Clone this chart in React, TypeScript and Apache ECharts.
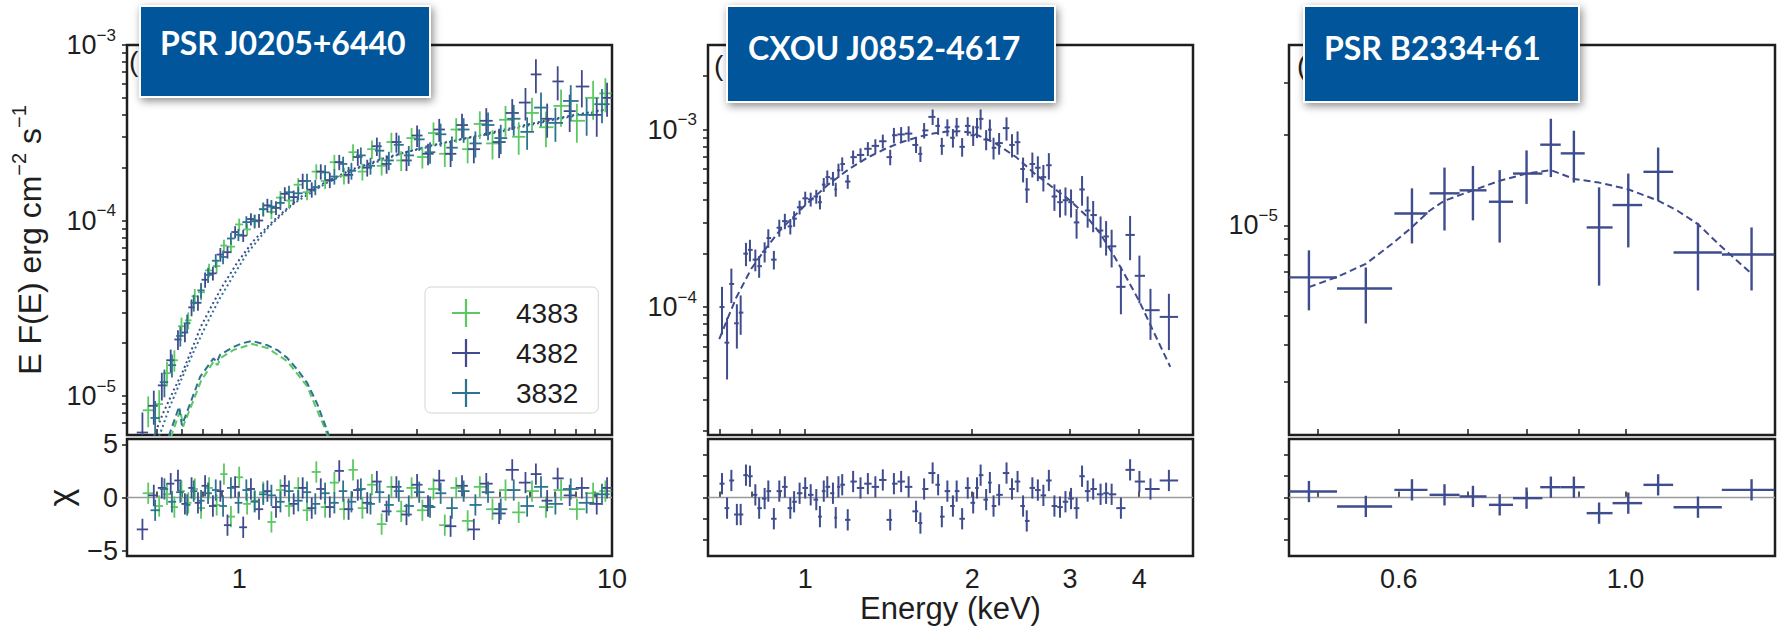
import React, { useEffect, useRef } from 'react';
import * as echarts from 'echarts';

const FONT = 'Liberation Sans';
const INK = '#1e1e1e';
const C_GREEN = '#5cc863';
const C_BLUE = '#414a8e';
const C_TEAL = '#2d738e';
const C_DATA = '#3f4c8d';
const C_BOX = '#00559b';

// ---------- Panel 1: PSR J0205+6440 (rows: energy keV, E F(E), relative error, chi) ----------
const obs4383: number[][] = [
  [0.57, 8.3e-6, 0.2, 0.4], [0.61, 9.0e-6, 0.2, -0.8], [0.64, 1.35e-5, 0.16, 0.3], [0.67, 1.6e-5, 0.14, -0.9],
  [0.70, 2.5e-5, 0.12, 0.6], [0.73, 2.7e-5, 0.11, -0.5], [0.76, 3.7e-5, 0.1, 0.8], [0.79, 3.9e-5, 0.1, -1.0],
  [0.83, 5.2e-5, 0.09, 0.9], [0.87, 5.5e-5, 0.09, -0.7], [0.91, 7.2e-5, 0.08, 2.2], [0.95, 7.1e-5, 0.08, -1.8],
  [1.0, 9.5e-5, 0.08, 1.9], [1.05, 8.9e-5, 0.08, -0.6], [1.1, 1.0e-4, 0.08, -0.3], [1.16, 1.16e-4, 0.09, 0.5],
  [1.22, 1.12e-4, 0.09, -2.3], [1.29, 1.35e-4, 0.09, 0.7], [1.36, 1.3e-4, 0.09, -0.8], [1.44, 1.6e-4, 0.09, 0.9],
  [1.52, 1.45e-4, 0.1, -1.2], [1.61, 1.9e-4, 0.1, 2.4], [1.7, 1.68e-4, 0.1, -0.9], [1.8, 2.15e-4, 0.1, 1.4],
  [1.91, 1.8e-4, 0.11, -1.1], [2.02, 2.45e-4, 0.11, 2.6], [2.14, 1.9e-4, 0.11, -1.0], [2.27, 2.55e-4, 0.12, 1.2],
  [2.41, 2.05e-4, 0.12, -2.5], [2.56, 2.8e-4, 0.13, 1.0], [2.72, 2.2e-4, 0.13, -1.3], [2.9, 2.95e-4, 0.14, 0.9],
  [3.1, 2.3e-4, 0.14, -1.2], [3.32, 3.15e-4, 0.15, 0.8], [3.56, 2.4e-4, 0.16, -2.6], [3.82, 3.3e-4, 0.16, 0.9],
  [4.1, 2.55e-4, 0.17, -2.2], [4.42, 3.55e-4, 0.18, 1.0], [4.78, 2.75e-4, 0.19, -1.1], [5.18, 3.75e-4, 0.2, 0.7],
  [5.62, 3.0e-4, 0.21, -1.4], [6.1, 4.1e-4, 0.22, 0.6], [6.65, 3.4e-4, 0.23, -0.9], [7.3, 4.5e-4, 0.24, 0.7],
  [8.05, 3.7e-4, 0.25, -1.1], [8.9, 5.0e-4, 0.25, 0.4], [9.6, 5.3e-4, 0.22, 0.6],
];
const obs4382: number[][] = [
  [0.55, 6.2e-6, 0.3, -3.0], [0.59, 8.8e-6, 0.22, 0.2], [0.62, 1.15e-5, 0.18, 0.9], [0.655, 1.6e-5, 0.15, 1.3],
  [0.685, 2.1e-5, 0.13, 1.6], [0.715, 2.3e-5, 0.12, -0.6], [0.745, 3.2e-5, 0.11, 0.9], [0.775, 3.4e-5, 0.1, -0.5],
  [0.81, 4.6e-5, 0.1, 1.1], [0.85, 5.0e-5, 0.09, -0.8], [0.89, 6.4e-5, 0.09, 0.6], [0.93, 6.6e-5, 0.08, -2.6],
  [0.975, 8.6e-5, 0.08, 1.0], [1.025, 8.2e-5, 0.08, -2.8], [1.075, 1.02e-4, 0.08, 0.8], [1.13, 1.0e-4, 0.09, -1.1],
  [1.19, 1.22e-4, 0.09, 0.6], [1.255, 1.18e-4, 0.09, -0.9], [1.325, 1.42e-4, 0.09, 1.1], [1.4, 1.36e-4, 0.09, -0.6],
  [1.48, 1.68e-4, 0.1, 0.9], [1.565, 1.5e-4, 0.1, -1.0], [1.655, 1.9e-4, 0.1, 0.8], [1.75, 1.7e-4, 0.1, -0.9],
  [1.855, 2.15e-4, 0.1, 2.5], [1.965, 1.82e-4, 0.11, -1.1], [2.08, 2.3e-4, 0.11, 0.7], [2.205, 2.0e-4, 0.11, -0.5],
  [2.34, 2.65e-4, 0.12, 1.5], [2.485, 2.1e-4, 0.12, -1.3], [2.64, 2.8e-4, 0.13, 1.0], [2.81, 2.2e-4, 0.13, -1.6],
  [3.0, 3.05e-4, 0.14, 1.2], [3.21, 2.4e-4, 0.14, -0.8], [3.44, 3.3e-4, 0.15, 1.6], [3.69, 2.4e-4, 0.16, -2.7],
  [3.96, 3.5e-4, 0.16, 1.1], [4.26, 2.55e-4, 0.17, -3.0], [4.6, 3.7e-4, 0.18, 1.3], [4.98, 2.8e-4, 0.19, -1.5],
  [5.4, 4.1e-4, 0.2, 2.6], [5.86, 4.7e-4, 0.21, 1.4], [6.25, 6.8e-4, 0.22, 2.2], [6.7, 3.8e-4, 0.22, -0.3],
  [7.15, 6.2e-4, 0.22, 1.8], [7.7, 4.2e-4, 0.24, 0.2], [8.3, 5.8e-4, 0.24, 0.9], [9.1, 4.0e-4, 0.25, -0.6],
  [9.7, 5.0e-4, 0.22, 0.9],
];
const obs3832: number[][] = [
  [0.595, 7.5e-6, 0.25, -1.2], [0.63, 1.2e-5, 0.18, 0.8], [0.66, 1.5e-5, 0.15, -0.4], [0.695, 2.2e-5, 0.13, 0.5],
  [0.725, 2.6e-5, 0.12, -0.7], [0.755, 3.4e-5, 0.11, 0.6], [0.79, 4.0e-5, 0.1, -0.3], [0.825, 4.9e-5, 0.1, 0.4],
  [0.865, 5.9e-5, 0.09, 0.7], [0.905, 6.2e-5, 0.09, -0.8], [0.95, 7.9e-5, 0.08, 0.9], [0.995, 8.3e-5, 0.08, -0.5],
  [1.045, 9.8e-5, 0.08, 0.7], [1.1, 9.9e-5, 0.09, -0.4], [1.16, 1.16e-4, 0.09, 0.3], [1.22, 1.2e-4, 0.09, 0.2],
  [1.29, 1.26e-4, 0.09, -0.4], [1.36, 1.45e-4, 0.09, 0.6], [1.44, 1.43e-4, 0.09, -0.3], [1.52, 1.68e-4, 0.1, 0.5],
  [1.6, 1.55e-4, 0.1, -0.6], [1.7, 1.88e-4, 0.1, 0.4], [1.8, 1.78e-4, 0.1, -0.5], [1.9, 2.1e-4, 0.1, 0.6],
  [2.0, 1.92e-4, 0.11, -0.4], [2.12, 2.35e-4, 0.11, 0.8], [2.25, 2.05e-4, 0.11, -0.6], [2.38, 2.5e-4, 0.12, 0.5],
  [2.52, 2.2e-4, 0.12, -0.7], [2.68, 2.7e-4, 0.13, 0.6], [2.85, 2.35e-4, 0.13, -0.8], [3.04, 2.9e-4, 0.14, 0.5],
  [3.25, 2.45e-4, 0.14, -0.9], [3.47, 3.1e-4, 0.15, 0.4], [3.72, 2.6e-4, 0.16, -1.0], [4.0, 3.3e-4, 0.16, 0.6],
  [4.3, 2.75e-4, 0.17, -0.7], [4.65, 3.5e-4, 0.18, 0.5], [5.03, 2.95e-4, 0.19, -1.1], [5.45, 3.8e-4, 0.2, 0.7],
  [5.92, 3.2e-4, 0.21, -0.8], [6.45, 4.4e-4, 0.22, 1.0], [7.05, 3.6e-4, 0.22, -0.6], [7.75, 4.8e-4, 0.23, 0.8],
  [8.55, 4.0e-4, 0.24, -0.5], [9.4, 4.6e-4, 0.22, 0.3],
];
// model components (energy keV, E F(E))
const plModelBlue: number[][] = [
  [0.59, 5.9e-6], [0.625, 8.0e-6], [0.67, 1.1e-5], [0.708, 1.4e-5], [0.75, 1.9e-5], [0.79, 2.5e-5], [0.852, 3.4e-5],
  [0.9, 4.2e-5], [0.99, 5.8e-5], [1.1, 7.8e-5], [1.25, 1.02e-4], [1.45, 1.35e-4], [1.7, 1.65e-4], [2.0, 1.95e-4],
  [2.5, 2.3e-4], [3.2, 2.65e-4], [4.2, 3.0e-4], [5.5, 3.4e-4], [7.0, 3.8e-4], [8.5, 4.1e-4], [9.6, 4.3e-4],
];
const plModelTeal: number[][] = [
  [0.61, 5.9e-6], [0.65, 8.6e-6], [0.7, 1.25e-5], [0.76, 1.85e-5], [0.82, 2.6e-5], [0.88, 3.5e-5], [0.95, 4.6e-5],
  [1.05, 6.5e-5], [1.2, 9.2e-5], [1.4, 1.25e-4], [1.7, 1.62e-4], [2.1, 2.0e-4], [2.8, 2.45e-4], [3.8, 2.85e-4],
  [5.0, 3.2e-4], [7.0, 3.75e-4], [9.6, 4.25e-4],
];
const bbModelTeal: number[][] = [
  [0.647, 5.9e-6], [0.69, 8.7e-6], [0.702, 6.8e-6], [0.786, 1.29e-5], [0.853, 1.64e-5], [0.871, 1.56e-5],
  [0.889, 1.72e-5], [0.963, 1.9e-5], [1.02, 2.0e-5], [1.084, 2.06e-5], [1.189, 1.95e-5], [1.27, 1.82e-5],
  [1.345, 1.65e-5], [1.43, 1.42e-5], [1.521, 1.19e-5], [1.62, 9.0e-6], [1.72, 6.4e-6], [1.78, 5.0e-6],
];
const bbModelGreen: number[][] = [
  [0.655, 5.8e-6], [0.695, 8.3e-6], [0.707, 6.7e-6], [0.79, 1.22e-5], [0.855, 1.58e-5], [0.874, 1.5e-5],
  [0.892, 1.65e-5], [0.965, 1.83e-5], [1.084, 1.98e-5], [1.19, 1.88e-5], [1.345, 1.58e-5], [1.52, 1.14e-5],
  [1.72, 6.1e-6], [1.77, 5.0e-6],
];

// ---------- Panel 2: CXOU J0852-4617 (rows: energy keV, E F(E), relative error, chi) ----------
const cxouRows: number[][] = [
  [0.708, 1.0e-4, 0.3, 1.3], [0.723, 6.3e-5, 0.38, -1.0], [0.736, 1.35e-4, 0.22, 1.6], [0.753, 8.1e-5, 0.28, -1.6],
  [0.765, 9.3e-5, 0.25, -1.6], [0.782, 2.0e-4, 0.15, 2.1], [0.795, 2.1e-4, 0.14, 2.0], [0.813, 1.85e-4, 0.14, 0.25],
  [0.826, 1.7e-4, 0.14, -1.0], [0.845, 2.05e-4, 0.13, -0.1], [0.858, 2.45e-4, 0.12, 0.6], [0.878, 1.85e-4, 0.12, -2.0],
  [0.898, 2.8e-4, 0.11, 0.6], [0.919, 3.05e-4, 0.1, 1.0], [0.94, 2.85e-4, 0.1, -1.0], [0.955, 3.15e-4, 0.1, -0.4],
  [0.977, 3.65e-4, 0.09, 0.4], [1.0, 4.1e-4, 0.09, 0.9], [1.023, 4.05e-4, 0.09, 0.25], [1.047, 4.2e-4, 0.09, -0.2],
  [1.063, 3.9e-4, 0.09, -1.8], [1.08, 4.9e-4, 0.09, 0.6], [1.096, 5.4e-4, 0.09, 1.0], [1.122, 5.3e-4, 0.09, 0.4],
  [1.135, 4.6e-4, 0.09, -1.9], [1.148, 5.9e-4, 0.09, 1.0], [1.166, 6.4e-4, 0.09, 1.2], [1.193, 5.1e-4, 0.09, -2.1],
  [1.22, 7.0e-4, 0.09, 1.5], [1.258, 7.2e-4, 0.09, 0.9], [1.297, 7.8e-4, 0.09, 1.3], [1.338, 8.1e-4, 0.09, 1.0],
  [1.38, 8.6e-4, 0.09, 1.65], [1.423, 7.0e-4, 0.1, -2.1], [1.445, 9.3e-4, 0.1, 1.3], [1.489, 9.4e-4, 0.1, 1.5],
  [1.536, 9.5e-4, 0.1, 1.0], [1.584, 8.2e-4, 0.1, -1.3], [1.613, 7.3e-4, 0.1, -2.4], [1.638, 9.9e-4, 0.1, 0.8],
  [1.697, 1.18e-3, 0.1, 2.3], [1.736, 1.05e-3, 0.11, 1.2], [1.763, 8.1e-4, 0.11, -1.8], [1.804, 1.03e-3, 0.11, 0.6],
  [1.846, 9.0e-4, 0.12, -0.8], [1.875, 1.04e-3, 0.12, 0.6], [1.918, 8.0e-4, 0.12, -2.0], [1.963, 1.05e-3, 0.12, 0.9],
  [2.008, 9.3e-4, 0.13, -0.5], [2.04, 1.03e-3, 0.13, 0.9], [2.071, 1.15e-3, 0.13, 2.1], [2.119, 8.8e-4, 0.13, -0.2],
  [2.152, 1.0e-3, 0.14, 1.4], [2.185, 7.9e-4, 0.14, -0.8], [2.236, 8.4e-4, 0.14, 0.25], [2.306, 1.02e-3, 0.15, 2.3],
  [2.359, 8.2e-4, 0.15, 0.8], [2.414, 8.5e-4, 0.15, 1.5], [2.47, 6.0e-4, 0.16, -0.8], [2.508, 4.6e-4, 0.16, -2.2],
  [2.567, 6.4e-4, 0.16, 0.9], [2.626, 6.1e-4, 0.16, 0.7], [2.687, 5.4e-4, 0.17, 0.2], [2.749, 6.3e-4, 0.17, 1.6],
  [2.813, 4.2e-4, 0.17, -0.8], [2.879, 3.9e-4, 0.18, -0.9], [2.945, 4.0e-4, 0.18, -0.4], [3.014, 3.9e-4, 0.18, -0.1],
  [3.084, 3.0e-4, 0.19, -1.0], [3.155, 4.6e-4, 0.19, 2.0], [3.229, 3.5e-4, 0.2, 0.6], [3.304, 3.3e-4, 0.2, 0.8],
  [3.407, 2.7e-4, 0.2, 0.3], [3.486, 2.5e-4, 0.22, 0.4], [3.567, 2.2e-4, 0.24, 0.3], [3.707, 1.3e-4, 0.3, -1.0],
  [3.851, 2.55e-4, 0.28, 2.6], [4.003, 1.5e-4, 0.3, 1.5], [4.191, 9.6e-5, 0.32, 0.8], [4.524, 8.8e-5, 0.35, 1.6],
];
const cxouModel: number[][] = [
  [0.70, 6.6e-5], [0.75, 1.12e-4], [0.8, 1.65e-4], [0.85, 2.15e-4], [0.9, 2.7e-4], [0.95, 3.2e-4], [1.0, 3.75e-4],
  [1.1, 4.9e-4], [1.2, 6.0e-4], [1.3, 7.0e-4], [1.4, 7.85e-4], [1.5, 8.55e-4], [1.6, 9.1e-4], [1.7, 9.5e-4],
  [1.8, 9.75e-4], [1.9, 9.8e-4], [2.0, 9.6e-4], [2.2, 8.4e-4], [2.4, 7.0e-4], [2.6, 5.6e-4], [2.8, 4.7e-4],
  [3.0, 4.0e-4], [3.2, 3.3e-4], [3.4, 2.6e-4], [3.6, 1.95e-4], [3.8, 1.45e-4], [4.0, 1.08e-4], [4.2, 7.8e-5],
  [4.55, 4.6e-5],
];

// ---------- Panel 3: PSR B2334+61 (rows: E, E low, E high, flux, flux low, flux high, chi) ----------
const b2334Rows: number[][] = [
  [0.490, 0.4685, 0.522, 6.71e-6, 5.21e-6, 8.26e-6, 0.56],
  [0.557, 0.522, 0.591, 6.16e-6, 4.71e-6, 7.24e-6, -0.84],
  [0.618, 0.594, 0.640, 1.096e-5, 8.71e-6, 1.33e-5, 0.72],
  [0.665, 0.643, 0.688, 1.28e-5, 9.62e-6, 1.56e-5, 0.25],
  [0.709, 0.688, 0.731, 1.31e-5, 1.04e-5, 1.58e-5, 0.1],
  [0.753, 0.735, 0.776, 1.2e-5, 8.77e-6, 1.53e-5, -0.69],
  [0.800, 0.776, 0.829, 1.49e-5, 1.18e-5, 1.78e-5, -0.06],
  [0.845, 0.825, 0.864, 1.86e-5, 1.45e-5, 2.27e-5, 0.97],
  [0.890, 0.864, 0.912, 1.74e-5, 1.39e-5, 2.07e-5, 0.97],
  [0.942, 0.916, 0.971, 9.85e-6, 6.3e-6, 1.34e-5, -1.47],
  [1.006, 0.971, 1.038, 1.17e-5, 8.45e-6, 1.49e-5, -0.53],
  [1.076, 1.041, 1.113, 1.51e-5, 1.21e-5, 1.82e-5, 1.19],
  [1.177, 1.114, 1.242, 8.13e-6, 6.07e-6, 1.02e-5, -0.91],
  [1.328, 1.242, 1.398, 8.0e-6, 6.07e-6, 9.85e-6, 0.72],
];
const b2334Model: number[][] = [
  [0.49, 6.23e-6], [0.522, 6.73e-6], [0.557, 7.45e-6], [0.591, 8.69e-6], [0.618, 9.87e-6], [0.643, 1.12e-5],
  [0.665, 1.21e-5], [0.709, 1.31e-5], [0.753, 1.41e-5], [0.8, 1.49e-5], [0.845, 1.53e-5], [0.89, 1.43e-5],
  [0.942, 1.39e-5], [1.006, 1.32e-5], [1.076, 1.21e-5], [1.124, 1.12e-5], [1.177, 1.01e-5], [1.232, 8.69e-6],
  [1.328, 6.9e-6],
];

// ---------- axes ----------
const p1X = { min: 0.5, max: 10, labels: [1, 10], ticks: [0.6, 0.7, 0.8, 0.9, 1, 2, 3, 4, 5, 6, 7, 8, 9, 10] };
const p2X = { min: 0.668, max: 5.0, labels: [1, 2, 3, 4], ticks: [0.7, 0.8, 0.9, 1, 2, 3, 4] };
const p3X = { min: 0.4685, max: 1.4, labels: [0.6, 1.0], ticks: [0.5, 0.6, 0.7, 0.8, 0.9, 1.0] };
const p1Y = {
  min: 6e-6, max: 1e-3, labels: [1e-5, 1e-4, 1e-3],
  ticks: [7e-6, 8e-6, 9e-6, 1e-5, 2e-5, 3e-5, 4e-5, 5e-5, 6e-5, 7e-5, 8e-5, 9e-5, 1e-4, 2e-4, 3e-4, 4e-4, 5e-4, 6e-4, 7e-4, 8e-4, 9e-4, 1e-3],
};
const p2Y = {
  min: 1.9e-5, max: 3.0e-3, labels: [1e-4, 1e-3],
  ticks: [2e-5, 3e-5, 4e-5, 5e-5, 6e-5, 7e-5, 8e-5, 9e-5, 1e-4, 2e-4, 3e-4, 4e-4, 5e-4, 6e-4, 7e-4, 8e-4, 9e-4, 1e-3, 2e-3],
};
const p3Y = {
  min: 2e-6, max: 4e-5, labels: [1e-5],
  ticks: [3e-6, 4e-6, 5e-6, 6e-6, 7e-6, 8e-6, 9e-6, 1e-5, 2e-5, 3e-5],
};
const resRange = { min: -5.5, max: 5.5 };
const p1ResLabels = [-5, 0, 5];
const resTicks = [-4, -2, 0, 2, 4];

const legendNames = ['4383', '4382', '3832'];
const titles = ['PSR J0205+6440', 'CXOU J0852-4617', 'PSR B2334+61'];

// ---------- helpers ----------
function edges(es: number[]) {
  return es.map((e, i) => {
    const prev = i > 0 ? es[i - 1] : null;
    const next = i < es.length - 1 ? es[i + 1] : null;
    const hi = next !== null ? Math.sqrt(e * next) : e * e / Math.sqrt(e * (prev as number));
    const lo = prev !== null ? Math.sqrt(e * prev) : e * e / hi;
    return [lo, hi];
  });
}
function specData(rows: number[][]) {
  const ed = edges(rows.map((r) => r[0]));
  return rows.map((r, i) => [r[0], r[1], ed[i][0], ed[i][1], r[1] * (1 - r[2]), r[1] * (1 + r[2])]);
}
function resData(rows: number[][]) {
  const ed = edges(rows.map((r) => r[0]));
  return rows.map((r, i) => [r[0], r[3], ed[i][0], ed[i][1], r[3] - 1, r[3] + 1]);
}

function crossSeries(name: string, idx: number, data: number[][], color: string, lw: number, z = 3) {
  return {
    type: 'custom', name, xAxisIndex: idx, yAxisIndex: idx, data, clip: true, z,
    itemStyle: { color }, encode: { x: 0, y: 1 }, silent: true,
    renderItem: (_p: any, api: any) => {
      const x = api.value(0), y = api.value(1);
      const a = api.coord([api.value(2), y]);
      const b = api.coord([api.value(3), y]);
      const c = api.coord([x, api.value(4)]);
      const d = api.coord([x, api.value(5)]);
      return {
        type: 'group',
        children: [
          { type: 'line', shape: { x1: a[0], y1: a[1], x2: b[0], y2: b[1] }, style: { stroke: color, lineWidth: lw } },
          { type: 'line', shape: { x1: c[0], y1: c[1], x2: d[0], y2: d[1] }, style: { stroke: color, lineWidth: lw } },
        ],
      };
    },
  };
}
function lineSeries(idx: number, data: number[][], color: string, dash: any, width = 2, z = 2) {
  return {
    type: 'line', xAxisIndex: idx, yAxisIndex: idx, data, symbol: 'none', showSymbol: false, silent: true, clip: true, z,
    lineStyle: { color, width, type: dash }, emphasis: { disabled: true },
  };
}

const tickStyle = { color: INK, width: 1.5 };
const labelBase = { color: INK, fontFamily: FONT, fontSize: 27 };

function xAxis(gi: number, cfg: any, showLabels: boolean, fmt: (v: number) => string, extra: any = {}) {
  return {
    type: 'log', logBase: 10, gridIndex: gi, min: cfg.min, max: cfg.max,
    axisLine: { show: false }, splitLine: { show: false },
    axisTick: { show: true, inside: true, length: 6, customValues: cfg.ticks, lineStyle: tickStyle },
    axisLabel: { show: showLabels, customValues: cfg.labels, formatter: (v: number) => fmt(v), margin: 9, ...labelBase },
    ...extra,
  };
}
function powLabel(v: number) {
  const e = Math.round(Math.log10(v));
  return `{b|10}{s|${e < 0 ? '\u2212' : ''}${Math.abs(e)}}`;
}
function yLogAxis(gi: number, cfg: any, extra: any = {}) {
  return {
    type: 'log', logBase: 10, gridIndex: gi, min: cfg.min, max: cfg.max,
    axisLine: { show: false }, splitLine: { show: false },
    axisTick: { show: true, inside: false, length: 5, customValues: cfg.ticks, lineStyle: tickStyle },
    axisLabel: {
      show: true, customValues: cfg.labels, margin: 11, formatter: powLabel,
      rich: {
        b: { ...labelBase },
        s: { color: INK, fontFamily: FONT, fontSize: 17, padding: [0, 0, 20, 0] },
      },
    },
    ...extra,
  };
}
function yResAxis(gi: number, labels: number[] | null, extra: any = {}) {
  return {
    type: 'value', gridIndex: gi, min: resRange.min, max: resRange.max,
    axisLine: { show: false }, splitLine: { show: false },
    axisTick: { show: true, inside: false, length: 5, customValues: labels ? labels : resTicks, lineStyle: tickStyle },
    axisLabel: {
      show: !!labels, customValues: labels ? labels : [], margin: 9, ...labelBase,
      formatter: (v: number) => (v < 0 ? '\u2212' + Math.abs(v) : String(v)),
    },
    ...extra,
  };
}

export default function App() {
  const ref = useRef<HTMLDivElement>(null);
  useEffect(() => {
    if (!ref.current) return;
    const chart = echarts.init(ref.current, null, { renderer: 'svg' });
    const frame = { show: true, borderColor: INK, borderWidth: 2.5, backgroundColor: 'transparent' };
    const grids = [
      { left: 127, top: 45, width: 485, height: 390, ...frame },
      { left: 127, top: 439, width: 485, height: 117, ...frame },
      { left: 708, top: 45, width: 485, height: 390, ...frame },
      { left: 708, top: 439, width: 485, height: 117, ...frame },
      { left: 1289, top: 45, width: 486, height: 390, ...frame },
      { left: 1289, top: 439, width: 486, height: 117, ...frame },
    ];
    const fmtInt = (v: number) => String(Math.round(v));
    const fmt1 = (v: number) => v.toFixed(1);
    const titleStyle = { color: INK, fontFamily: FONT };

    const xAxes = [
      xAxis(0, p1X, false, fmtInt),
      xAxis(1, p1X, true, fmtInt),
      xAxis(2, p2X, false, fmtInt),
      xAxis(3, p2X, true, fmtInt, {
        name: 'Energy (keV)', nameLocation: 'middle', nameGap: 34,
        nameTextStyle: { ...titleStyle, fontSize: 31 },
      }),
      xAxis(4, p3X, false, fmt1),
      xAxis(5, p3X, true, fmt1),
    ];
    const yAxes = [
      yLogAxis(0, p1Y, {
        name: 'E F(E) erg cm{s|\u22122} s{s|\u22121}', nameLocation: 'middle', nameRotate: 90, nameGap: 76,
        nameTextStyle: {
          ...titleStyle, fontSize: 32,
          rich: { s: { color: INK, fontFamily: FONT, fontSize: 20, padding: [0, 0, 22, 0] } },
        },
      }),
      yResAxis(1, p1ResLabels, {
        name: '\u03c7', nameLocation: 'middle', nameRotate: 90, nameGap: 50,
        nameTextStyle: { ...titleStyle, fontSize: 34 },
      }),
      yLogAxis(2, p2Y),
      yResAxis(3, null),
      yLogAxis(4, p3Y),
      yResAxis(5, null),
    ];

    const zero = (idx: number, cfg: any) => lineSeries(idx, [[cfg.min, 0], [cfg.max, 0]], '#9a9a9a', 'solid', 1.5, 1);

    const series: any[] = [
      // panel 1 models
      lineSeries(0, plModelTeal, C_TEAL, [2, 3], 2),
      lineSeries(0, plModelBlue, C_BLUE, [2, 3], 2),
      lineSeries(0, bbModelGreen, C_GREEN, [7, 4], 2),
      lineSeries(0, bbModelTeal, C_TEAL, [7, 4], 2),
      // panel 1 data
      crossSeries(legendNames[0], 0, specData(obs4383), C_GREEN, 1.8),
      crossSeries(legendNames[1], 0, specData(obs4382), C_BLUE, 1.8),
      crossSeries(legendNames[2], 0, specData(obs3832), C_TEAL, 1.8),
      zero(1, p1X),
      crossSeries('res 4383', 1, resData(obs4383), C_GREEN, 1.8),
      crossSeries('res 4382', 1, resData(obs4382), C_BLUE, 1.8),
      crossSeries('res 3832', 1, resData(obs3832), C_TEAL, 1.8),
      // panel 2
      lineSeries(2, cxouModel, C_DATA, [7, 4], 2),
      crossSeries('CXOU', 2, specData(cxouRows), C_DATA, 2),
      zero(3, p2X),
      crossSeries('CXOU res', 3, resData(cxouRows), C_DATA, 2),
      // panel 3
      lineSeries(4, b2334Model, C_DATA, [7, 4], 2),
      crossSeries('B2334', 4, b2334Rows.map((r) => [r[0], r[3], r[1], r[2], r[4], r[5]]), C_DATA, 2.4),
      zero(5, p3X),
      crossSeries('B2334 res', 5, b2334Rows.map((r) => [r[0], r[6], r[1], r[2], r[6] - 1, r[6] + 1]), C_DATA, 2.4),
    ];

    const box = (x: number, y: number, w: number, h: number) => ({
      type: 'rect', z: 100, shape: { x, y, width: w, height: h },
      style: { fill: C_BOX, stroke: '#ffffff', lineWidth: 2, shadowBlur: 8, shadowColor: 'rgba(0,0,0,0.45)', shadowOffsetX: 2, shadowOffsetY: 3 },
    });
    const boxText = (x: number, y: number, text: string) => ({
      type: 'text', z: 101, x, y,
      style: { text, fill: '#ffffff', font: 'bold 32px Lato', verticalAlign: 'middle', textVerticalAlign: 'middle' },
    });
    const paren = (x: number, y: number) => ({
      type: 'text', z: 50, x, y,
      style: { text: '(', fill: INK, font: `28px ${FONT}`, verticalAlign: 'middle', textVerticalAlign: 'middle' },
    });

    chart.setOption({
      animation: false,
      backgroundColor: '#ffffff',
      textStyle: { fontFamily: FONT },
      grid: grids,
      xAxis: xAxes,
      yAxis: yAxes,
      legend: {
        data: legendNames, orient: 'vertical', left: 425, top: 287,
        padding: [12, 20, 6, 27], itemGap: 12, itemWidth: 28, itemHeight: 28,
        icon: 'path://M0,9.2H20V10.8H0Z M9.2,0H10.8V20H9.2Z',
        itemStyle: { borderWidth: 0 },
        backgroundColor: 'rgba(255,255,255,0.85)', borderColor: '#d4d4d4', borderWidth: 1, borderRadius: 6,
        textStyle: { color: INK, fontFamily: FONT, fontSize: 28, padding: [0, 0, 0, 31] },
        selectedMode: false,
      },
      graphic: [
        paren(129, 61), paren(714, 65), paren(1297, 65),
        box(140, 6, 290, 91), boxText(160, 42, titles[0]),
        box(727, 6, 328, 96), boxText(748, 47, titles[1]),
        box(1304, 6, 275, 96), boxText(1324, 47, titles[2]),
      ],
      series,
    });
    return () => chart.dispose();
  }, []);
  return <div ref={ref} style={{ position: 'absolute', left: 0, top: 0, width: 1781, height: 626, background: '#fff' }} />;
}
